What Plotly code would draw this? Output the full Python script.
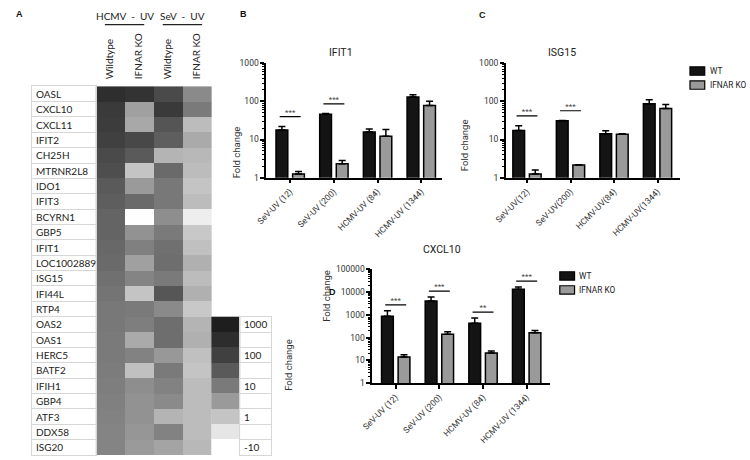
import plotly.graph_objects as go

W, H = 750, 460
FONT = "Roboto"
HFONT = "Lato"

# ---------------- Panel A data (log10 fold change) ----------------
genes = ["OASL", "CXCL10", "CXCL11", "IFIT2", "CH25H", "MTRNR2L8", "IDO1", "IFIT3",
         "BCYRN1", "GBP5", "IFIT1", "LOC1002889", "ISG15", "IFI44L", "RTP4", "OAS2",
         "OAS1", "HERC5", "BATF2", "IFIH1", "GBP4", "ATF3", "DDX58", "ISG20"]
conditions = ["Wildtype", "IFNAR KO", "Wildtype", "IFNAR KO"]
groups = ["HCMV  -  UV", "SeV  -  UV"]
hcmv_wt = [2.47, 2.16, 2.11, 2.00, 1.81, 1.73, 1.50, 1.44, 1.34, 1.34, 1.28, 1.25,
           1.16, 1.09, 1.03, 1.03, 1.00, 1.00, 0.97, 0.94, 0.91, 0.88, 0.84, 0.84]
hcmv_ko = [2.34, 0.43, 0.33, 1.85, 1.50, 0.00, 0.50, 1.25, -0.98, 0.62, 0.91, 0.43,
           0.84, 0.00, 1.00, 0.94, 0.31, 0.88, 0.05, 0.69, 0.62, 0.62, 0.56, 0.50]
sev_wt = [1.81, 2.16, 1.60, 1.44, 0.19, 1.25, 1.03, 1.03, 0.69, 1.00, 1.16, 1.19,
          1.00, 1.58, 0.75, 1.19, 1.19, 0.53, 1.00, 0.88, 0.75, 0.19, 0.88, 0.38]
sev_ko = [0.75, 1.00, 0.10, 0.31, 0.14, 0.10, 0.00, 0.10, -0.66, -0.06, 0.05, 0.24,
          0.10, 0.24, -0.06, 0.19, 0.24, 0.05, 0.00, 0.10, 0.10, 0.10, 0.10, 0.14]
scale_values = [3, 2.5, 2, 1.5, 1, 0.5, 0, -0.5, -1]
scale_labels = ["1000", "", "100", "", "10", "", "1", "", "-10"]

# ---------------- Panels B, C, D data ----------------
series = ["WT", "IFNAR KO"]
labels_b = ["SeV-UV (12)", "SeV-UV (200)", "HCMV-UV (84)", "HCMV-UV (1344)"]
labels_c = ["SeV-UV(12)", "SeV-UV(200)", "HCMV-UV(84)", "HCMV-UV(1344)"]
labels_d = ["SeV-UV (12)", "SeV-UV (200)", "HCMV-UV (84)", "HCMV-UV (1344)"]
ticks_bc = [1, 10, 100, 1000]
ticks_d = [1, 10, 100, 1000, 10000, 100000]

ifit1_wt = [17.7, 46, 15.7, 131]
ifit1_wt_err = [4.3, 2, 3.3, 17]
ifit1_ko = [1.24, 2.3, 12.2, 78]
ifit1_ko_err = [0.21, 0.5, 6.1, 22]
ifit1_sig = ["***", "***", "", ""]

isg15_wt = [17.3, 31, 14.2, 87]
isg15_wt_err = [5.7, 0.5, 2.8, 23]
isg15_ko = [1.24, 2.14, 13.7, 65]
isg15_ko_err = [0.36, 0.05, 0.5, 18]
isg15_sig = ["***", "***", "", ""]

cxcl10_wt = [860, 4000, 430, 13000]
cxcl10_wt_err = [640, 2000, 290, 3700]
cxcl10_ko = [14, 140, 21, 165]
cxcl10_ko_err = [4, 40, 5, 42]
cxcl10_sig = ["***", "***", "**", "***"]

WT_COLOR = "#141414"
KO_COLOR = "#9a9a9a"

def px(x):
    return x / W

def py(y):
    return 1 - y / H

fig = go.Figure()

# ---------------- Heatmap (panel A) ----------------
grays = [255, 230, 196, 154, 122, 90, 64, 45, 30]
colorscale = [[i / 8, f"rgb({g},{g},{g})"] for i, g in enumerate(grays)]
z = [[hcmv_wt[i], hcmv_ko[i], sev_wt[i], sev_ko[i]] for i in range(len(genes))]
fig.add_trace(go.Heatmap(z=z, x=list(range(len(conditions))), y=list(range(len(genes))),
                         colorscale=colorscale, zmin=-1, zmax=3, showscale=False,
                         xaxis="x4", yaxis="y4", hoverinfo="skip"))
n0 = len(genes) - len(scale_values)
fig.add_trace(go.Heatmap(z=[[v] for v in scale_values], x=[len(conditions)],
                         y=list(range(n0, len(genes))),
                         colorscale=colorscale, zmin=-1, zmax=3, showscale=False,
                         xaxis="x4", yaxis="y4", hoverinfo="skip"))
fig.add_trace(go.Scatter(x=[0.5], y=[0], mode="markers", marker=dict(opacity=0),
                         xaxis="x5", yaxis="y5", hoverinfo="skip", showlegend=False))
fig.add_trace(go.Scatter(x=[0.5], y=[n0], mode="markers", marker=dict(opacity=0),
                         xaxis="x6", yaxis="y6", hoverinfo="skip", showlegend=False))

ng = len(genes)
fig.update_layout(
    xaxis4=dict(domain=[px(85), px(232)], range=[-0.5, len(conditions) + 0.5], anchor="y4",
                side="top", tickvals=list(range(len(conditions))), ticktext=conditions,
                tickangle=-90, ticks="", showgrid=False, zeroline=False, showline=False,
                ticklabelstandoff=6, tickfont=dict(family=HFONT, size=10, color="#222")),
    yaxis4=dict(domain=[0, py(83)], range=[ng - 0.5, -0.5], anchor="x4",
                showticklabels=False, showgrid=False, zeroline=False, ticks=""),
    xaxis5=dict(domain=[px(20), px(85)], range=[0, 1], anchor="y5", showticklabels=False,
                showgrid=False, zeroline=False, ticks="", showline=True, mirror=True,
                linecolor="#d6d6d6", linewidth=1),
    yaxis5=dict(domain=[0, py(83)], range=[ng - 0.5, -0.5], anchor="x5",
                tickvals=[i + 0.5 for i in range(ng - 1)], showgrid=True, gridcolor="#d6d6d6",
                gridwidth=1, showticklabels=False, ticks="", zeroline=False,
                showline=True, mirror=True, linecolor="#d6d6d6", linewidth=1),
    xaxis6=dict(domain=[px(232), px(263)], range=[0, 1], anchor="y6", showticklabels=False,
                showgrid=False, zeroline=False, ticks="", showline=True, mirror=True,
                linecolor="#d6d6d6", linewidth=1),
    yaxis6=dict(domain=[0, py(83 + n0 * (460 - 83) / ng)], range=[ng - 0.5, n0 - 0.5],
                anchor="x6", tickvals=[i + 0.5 for i in range(n0, ng - 1)], showgrid=True,
                gridcolor="#d6d6d6", gridwidth=1, showticklabels=False, ticks="",
                zeroline=False, showline=True, mirror=True, linecolor="#d6d6d6", linewidth=1),
)

annotations = []
for i, g in enumerate(genes):
    annotations.append(dict(x=0.03, y=i, xref="x5", yref="y5", text=g, showarrow=False,
                            xanchor="left", yanchor="middle",
                            font=dict(family=HFONT, size=10, color="#222")))
for j, lab in enumerate(scale_labels):
    if lab:
        annotations.append(dict(x=0.06, y=n0 + j, xref="x6", yref="y6", text=lab,
                                showarrow=False, xanchor="left", yanchor="middle",
                                font=dict(family=HFONT, size=10, color="#222")))
shapes = []
for k, gname in enumerate(groups):
    c = 2 * k + 0.5
    annotations.append(dict(x=c, y=py(11), xref="x4", yref="paper", text=gname,
                            showarrow=False, xanchor="center", yanchor="middle",
                            font=dict(family=HFONT, size=10, color="#222")))
    shapes.append(dict(type="line", xref="x4", yref="paper", x0=c - 0.68, x1=c + 0.68,
                       y0=py(20), y1=py(20), line=dict(color="#222", width=1.2)))
annotations.append(dict(x=px(281), y=py(397), xref="paper", yref="paper", text="Fold change",
                        textangle=-90, showarrow=False,
                        font=dict(family=FONT, size=9.5, color="#333")))

# ---------------- Bar panels ----------------
def bar_panel(n, xdom, ydom, xr, yr, labels, yticks, wt, wt_err, ko, ko_err, sig, title,
              title_xy, ytitle_xy):
    xs = "" if n == 1 else str(n)
    xa, ya = "x" + xs, "y" + xs
    xpos = list(range(len(labels)))
    fig.add_trace(go.Bar(x=xpos, y=wt, name=series[0], marker=dict(color=WT_COLOR,
                         line=dict(color="black", width=1.5)),
                         error_y=dict(type="data", symmetric=False, array=wt_err,
                                      arrayminus=[0] * len(wt), color="black",
                                      thickness=1.5, width=3.5),
                         xaxis=xa, yaxis=ya, showlegend=False, offsetgroup="wt"))
    fig.add_trace(go.Bar(x=xpos, y=ko, name=series[1], marker=dict(color=KO_COLOR,
                         line=dict(color="black", width=1.5)),
                         error_y=dict(type="data", symmetric=False, array=ko_err,
                                      arrayminus=[0] * len(ko), color="black",
                                      thickness=1.5, width=3.5),
                         xaxis=xa, yaxis=ya, showlegend=False, offsetgroup="ko"))
    lx, ly, tx, ty, tt = [], [], [], [], []
    for i, s in enumerate(sig):
        if not s:
            continue
        top = max(wt[i] + wt_err[i], ko[i] + ko_err[i]) * 1.8
        lx += [i - 0.24, i + 0.24, None]
        ly += [top, top, None]
        tx.append(i)
        ty.append(top)
        tt.append(s)
    fig.add_trace(go.Scatter(x=lx, y=ly, mode="lines", line=dict(color="black", width=1.2),
                             xaxis=xa, yaxis=ya, showlegend=False, hoverinfo="skip"))
    fig.add_trace(go.Scatter(x=tx, y=ty, mode="text", text=tt, textposition="top center",
                             textfont=dict(family=FONT, size=8, color="#444"),
                             xaxis=xa, yaxis=ya, showlegend=False, hoverinfo="skip"))
    fig.update_layout({
        "xaxis" + xs: dict(domain=xdom, range=xr, anchor=ya, tickmode="array",
                           tickvals=xpos, ticktext=labels, tickangle=-45,
                           showline=True, linecolor="black", linewidth=1.5,
                           ticks="outside", ticklen=4, tickwidth=1.5, tickcolor="black",
                           showgrid=False, zeroline=False,
                           tickfont=dict(family=FONT, size=8.5, color="#333")),
        "yaxis" + xs: dict(domain=ydom, type="log", range=yr, anchor=xa, tickmode="array",
                           tickvals=yticks, ticktext=[str(t) for t in yticks],
                           showline=True, linecolor="black", linewidth=1.5,
                           ticks="outside", ticklen=4, tickwidth=1.5, tickcolor="black",
                           minor=dict(ticks="outside", ticklen=2, tickwidth=1,
                                      tickcolor="black", dtick="D1", showgrid=False),
                           showgrid=False, zeroline=False,
                           tickfont=dict(family=FONT, size=8.5, color="#333")),
    })
    annotations.append(dict(x=px(title_xy[0]), y=py(title_xy[1]), xref="paper", yref="paper",
                            text=title, showarrow=False,
                            font=dict(family=FONT, size=10.5, color="#222")))
    annotations.append(dict(x=px(ytitle_xy[0]), y=py(ytitle_xy[1]), xref="paper",
                            yref="paper", text="Fold change", textangle=-90, showarrow=False,
                            font=dict(family=FONT, size=9.5, color="#333")))

bar_panel(1, [px(258.3), px(437)], [py(176.5), py(59.5)], [-0.55, 3.475], [0, 3], labels_b,
          ticks_bc, ifit1_wt, ifit1_wt_err, ifit1_ko, ifit1_ko_err, ifit1_sig, "IFIT1",
          (334, 40), (220, 122))
bar_panel(2, [px(501.7), px(679)], [py(176.5), py(59.5)], [-0.49, 3.52], [0, 3], labels_c,
          ticks_bc, isg15_wt, isg15_wt_err, isg15_ko, isg15_ko_err, isg15_sig, "ISG15",
          (575, 40), (460, 115))
bar_panel(3, [px(366), px(547)], [py(386.7), py(270)], [-0.54, 3.54], [0, 5], labels_d,
          ticks_d, cxcl10_wt, cxcl10_wt_err, cxcl10_ko, cxcl10_ko_err, cxcl10_sig, "CXCL10",
          (437, 250), (320, 326))

# manual legends
for (lx0, ly0) in [(689, 63.3), (556.7, 272.7)]:
    for k, (name, col) in enumerate(zip(series, [WT_COLOR, KO_COLOR])):
        y0 = ly0 + k * 14.3
        shapes.append(dict(type="rect", xref="paper", yref="paper", x0=px(lx0),
                           x1=px(lx0 + 15), y0=py(y0), y1=py(y0 + 8.5), fillcolor=col,
                           line=dict(color="black", width=1.2)))
        annotations.append(dict(x=px(lx0 + 19), y=py(y0 + 4.3), xref="paper", yref="paper",
                                text=name, showarrow=False, xanchor="left",
                                yanchor="middle", borderpad=0,
                                font=dict(family=FONT, size=8.3, color="#222")))

# panel letters
for letter, (lx0, ly0) in zip(["A", "B", "C", "D"], [(2, 2), (230, 2), (473, 3), (320, 286)]):
    annotations.append(dict(x=px(lx0), y=py(ly0), xref="paper", yref="paper",
                            text=f"<b>{letter}</b>", showarrow=False, xanchor="left",
                            yanchor="top", font=dict(family="Liberation Sans", size=9,
                                                     color="#111")))

fig.update_layout(
    width=W, height=H, margin=dict(l=0, r=0, t=0, b=0),
    paper_bgcolor="white", plot_bgcolor="white",
    barmode="group", bargap=0.24, bargroupgap=0.29,
    showlegend=False, annotations=annotations, shapes=shapes,
)

fig.write_html("out.html", config={"displayModeBar": False},
               post_script="document.body.style.margin='0';document.body.style.padding='0';")
